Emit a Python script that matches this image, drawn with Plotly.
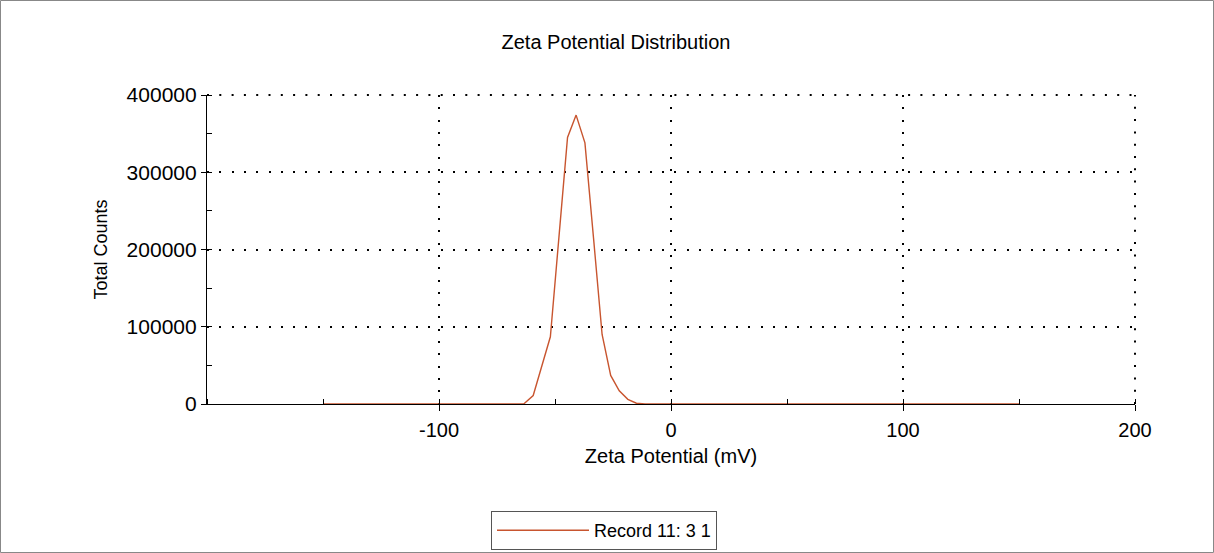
import plotly.graph_objects as go

# Data
zeta_mv = [-150, -63.5, -59.4, -55.7, -52.0, -48.3, -44.6, -40.9, -37.1, -33.4,
           -29.7, -26.0, -22.3, -18.6, -14.9, -11.2, 150]
total_counts = [0, 0, 11000, 48000, 87000, 216000, 345000, 374000, 338000, 215000,
                90000, 37000, 17000, 6000, 1000, 0, 0]
series_name = "Record 11: 3 1"

x_ticks = [-100, 0, 100, 200]
x_ticktext = ["-100", "0", "100", "200"]
y_ticks = [0, 100000, 200000, 300000, 400000]
y_ticktext = ["0", "100000", "200000", "300000", "400000"]

W, H = 1214, 553
L, R, T, B = 207, 79, 95, 149
pw, ph = W - L - R, H - T - B

fig = go.Figure()
fig.add_trace(go.Scatter(
    x=zeta_mv, y=total_counts, mode="lines", name=series_name,
    line=dict(color="#C8552F", width=1.4),
))

font = "Liberation Sans, Arial, sans-serif"
dash = "2px,10.3px"
grid = dict(showgrid=True, gridcolor="black", gridwidth=2, griddash=dash)

fig.update_layout(
    width=W, height=H,
    margin=dict(l=L, r=R, t=T, b=B),
    paper_bgcolor="white", plot_bgcolor="white",
    font=dict(family=font, color="black", size=20),
    title=dict(text="Zeta Potential Distribution", x=616 / W, xanchor="center",
               y=1 - 42 / H, yanchor="middle", font=dict(size=20)),
    showlegend=True,
    legend=dict(xref="paper", yref="container",
                x=(491 - L) / pw, xanchor="left", y=1 - 511 / H, yanchor="top",
                bordercolor="#555555", borderwidth=1, bgcolor="white",
                font=dict(size=18), itemwidth=92),
    xaxis=dict(range=[-200, 200], tickvals=x_ticks, ticktext=x_ticktext,
               ticks="outside", ticklen=6, ticklabelstandoff=2,
               tickcolor="black", showline=True, linecolor="black", linewidth=1.2,
               zeroline=False, layer="above traces",
               title=dict(text="Zeta Potential (mV)", standoff=8, font=dict(size=20)),
               minor=dict(dtick=50, ticks="inside", ticklen=5, tickcolor="black", showgrid=False),
               **grid),
    yaxis=dict(range=[0, 400000], tickvals=y_ticks, ticktext=y_ticktext,
               ticks="outside", ticklen=5, tickfont=dict(size=21),
               tickcolor="black", showline=True, linecolor="black", linewidth=1.2,
               zeroline=False,
               title=dict(text="Total Counts", standoff=14, font=dict(size=18)),
               minor=dict(dtick=50000, ticks="inside", ticklen=5, tickcolor="black", showgrid=False),
               **grid),
)

# dotted top and right plot borders (gridlines at the range ends)
fig.add_shape(type="line", xref="paper", yref="paper", x0=0, x1=1, y0=1, y1=1,
              line=dict(color="black", width=2, dash=dash), layer="below")
fig.add_shape(type="line", xref="paper", yref="paper", x0=1, x1=1, y0=0, y1=1,
              line=dict(color="black", width=2, dash=dash), layer="below")

# outer frame around the whole picture
fig.add_shape(type="rect", xref="paper", yref="paper",
              x0=(-L + 0.5) / pw, x1=1 + (R - 0.5) / pw,
              y0=(-B + 0.5) / ph, y1=1 + (T - 0.5) / ph,
              line=dict(color="#888888", width=1), fillcolor="rgba(0,0,0,0)", layer="below")

fig.write_html("out.html", config={"displayModeBar": False},
               post_script="document.body.style.margin='0';")
